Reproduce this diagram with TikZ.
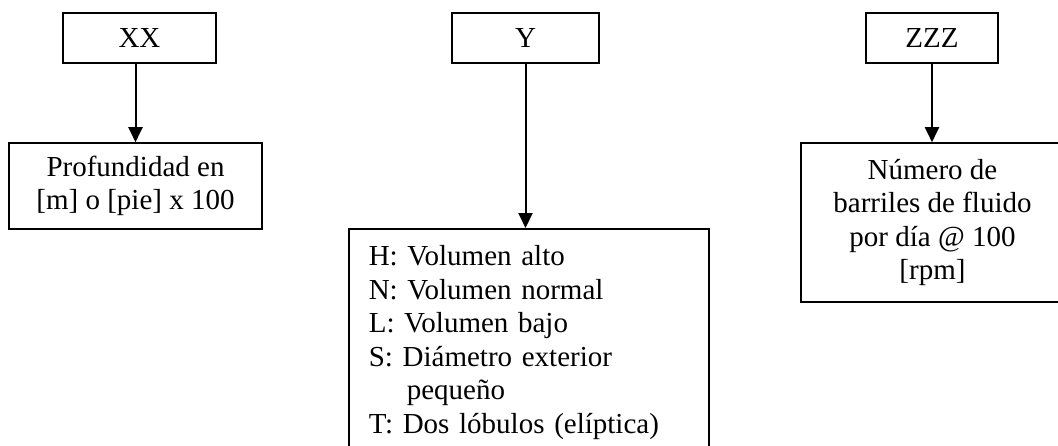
\documentclass[tikz,border=0pt]{standalone}
\usepackage{fontspec}
\setmainfont{Liberation Serif}
\usetikzlibrary{arrows.meta}

\begin{document}
\begin{tikzpicture}[x=1pt,y=-1pt,
  caja/.style={draw,line width=1.6pt,font=\fontsize{29}{33.5}\selectfont,inner sep=0pt},
  flecha/.style={line width=2pt,-{Triangle[length=15pt,width=14pt]}}]
  \useasboundingbox (0,0) rectangle (1058,445);
  \clip (0,0) rectangle (1058,445);
  \node [caja,minimum width=153pt,minimum height=50pt] (xx) at (139.5,38) {XX};
  \node [caja,minimum width=147pt,minimum height=50pt] (y) at (525.5,38) {Y};
  \node [caja,minimum width=132pt,minimum height=50pt] (zzz) at (932,38) {ZZZ};
  \node [caja,minimum width=253pt,minimum height=86pt,align=center] (prof) at (135.5,186) {Profundidad en\\{}[m] o [pie] x 100};
  \node [caja,anchor=north west,text width=320pt,align=left,inner xsep=20pt,inner ysep=17pt] (lista) at (348,228)
    {H: Volumen alto\\N: Volumen normal\\L: Volumen bajo\\S: Diámetro exterior\\\hspace*{38pt}pequeño\\T: Dos lóbulos (elíptica)};
  \node [caja,minimum width=263pt,minimum height=159pt,align=center] (barr) at (932.5,222.5) {Número de\\barriles de fluido\\por día @ 100\\{}[rpm]};
  \draw [flecha] (prof.north |- xx.south) -- (prof.north);
  \draw [flecha] (y.south) -- (y.south |- lista.north);
  \draw [flecha] (zzz.south) -- (zzz.south |- barr.north);
\end{tikzpicture}
\end{document}
